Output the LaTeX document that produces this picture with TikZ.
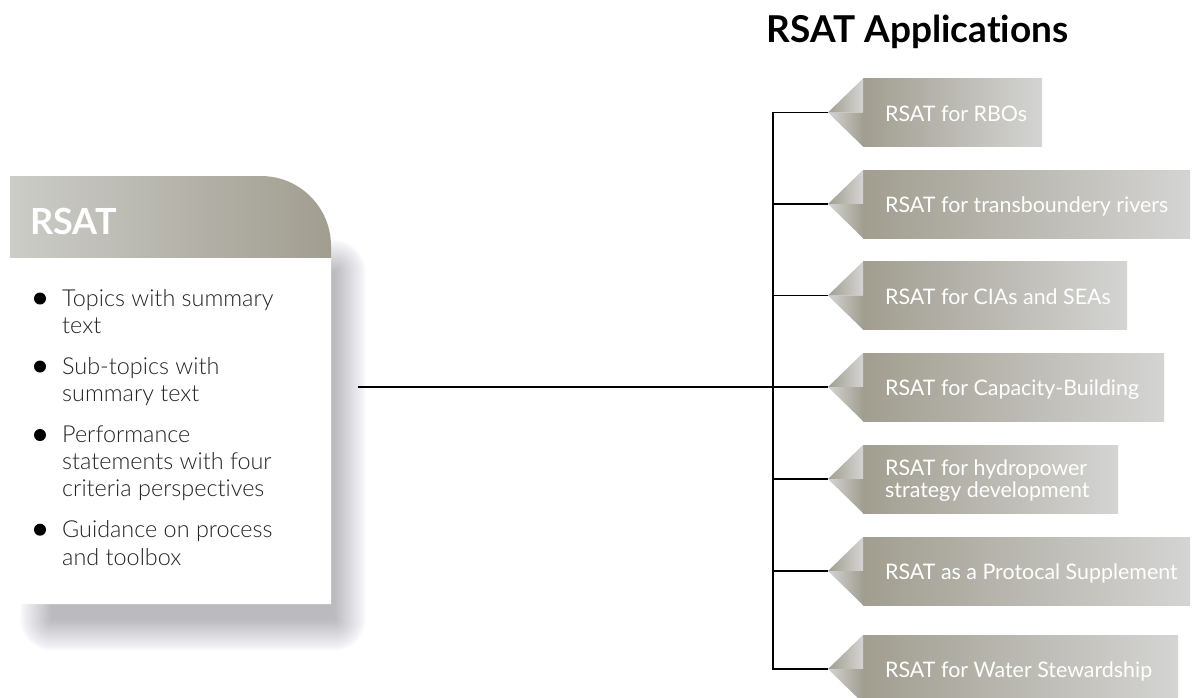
\documentclass[tikz,border=0pt]{standalone}
\usepackage{fontspec}
\setmainfont{Lato}[Ligatures=NoCommon]
\newfontfamily\latolight{Lato Light}[Ligatures=NoCommon]
\definecolor{olive}{RGB}{161,158,144}
\definecolor{lgray}{RGB}{212,212,211}
\definecolor{hlight}{RGB}{204,204,200}
\definecolor{bodytext}{RGB}{35,35,35}
\definecolor{shadowc}{RGB}{70,70,85}
\newcommand\applabel[5]{%
  \shade[left color=olive, right color=lgray] (863,#2-34) rectangle (#3,#2+34);
  \shade[left color=olive, right color=lgray] (828,#2) -- (863,#2-34) -- (863,#2) -- cycle;
  \shade[left color=lgray, right color=olive] (828,#2) -- (863,#2) -- (863,#2+34) -- cycle;
  \coordinate (t#1) at (828,#2);
  \node[labtext] (l#1) at (885,#2+#4) {#5};
}
\begin{document}
\begin{tikzpicture}[x=1pt,y=-1pt,
  conn/.style={line width=1.3pt, black},
  labtext/.style={text=white, font=\fontsize{21.4}{22}\selectfont, inner sep=0pt, anchor=base west, align=left},
  bultext/.style={text=bodytext, font=\latolight\fontsize{23.4}{27}\selectfont, inner sep=0pt, anchor=base west},
  bulletdot/.style={circle, fill=black, inner sep=0pt, minimum size=12pt},
  shadowlayer/.style={fill=shadowc, fill opacity=0.011},
]
\useasboundingbox[fill=white] (0,0) rectangle (1192,697);

% title
\node[font=\bfseries\fontsize{37}{40}\selectfont, anchor=base, inner sep=0pt] (title) at (917.5,42) {RSAT Applications};

% soft shadow of the main box
\foreach \k in {1,...,32} {
  \path[shadowlayer, rounded corners=\k pt] (52-\k,272-\k) rectangle (334+\k,619+\k);
}
% main box
\path[fill=white]
  (10,604) -- (10,176) -- (261,176) arc[start angle=-90, end angle=0, radius=70] -- (331,604) -- cycle;
\begin{scope}
  \clip (10,604) -- (10,176) -- (261,176) arc[start angle=-90, end angle=0, radius=70] -- (331,604) -- cycle;
  \shade[left color=hlight, right color=olive] (10,176) rectangle (331,257);
\end{scope}
\node[font=\bfseries\fontsize{36}{40}\selectfont, text=white, anchor=base west, inner sep=0pt] (rsat) at (30,234) {RSAT};

% bullets
\node[bulletdot] (d1) at (40,298.5) {};
\node[bultext] (b1a) at (62,306.7) {Topics with summary};
\node[bultext] (b1b) at (62,333.3) {text};
\node[bulletdot] (d2) at (40,366.5) {};
\node[bultext] (b2a) at (62,374) {Sub-topics with};
\node[bultext] (b2b) at (62,401.7) {summary text};
\node[bulletdot] (d3) at (40,435) {};
\node[bultext] (b3a) at (62,442.7) {Performance};
\node[bultext] (b3b) at (62,469) {statements with four};
\node[bultext] (b3c) at (62,496) {criteria perspectives};
\node[bulletdot] (d4) at (40,529.7) {};
\node[bultext] (b4a) at (62,537.3) {Guidance on process};
\node[bultext] (b4b) at (62,565) {and toolbox};

% application labels
\applabel{1}{112.5}{1042}{8.5}{RSAT for RBOs}
\applabel{2}{204}{1190}{8.5}{RSAT for transboundery rivers}
\applabel{3}{295.5}{1127}{8.5}{RSAT for CIAs and SEAs}
\applabel{4}{387}{1164}{8.5}{RSAT for Capacity-Building}
\applabel{5}{479}{1118}{18}{RSAT for hydropower\\strategy development}
\applabel{6}{571}{1190}{8.5}{RSAT as a Protocal Supplement}
\applabel{7}{669}{1178}{8.5}{RSAT for Water Stewardship}

% connectors
\coordinate (bus) at (773,0);
\coordinate (src) at (358,387);
\draw[conn] (t1) -- (t1 -| bus) -- (t7 -| bus) -- (t7);
\foreach \i in {2,...,6} \draw[conn] (t\i -| bus) -- (t\i);
\draw[conn] (src) -- (src -| bus);
\end{tikzpicture}
\end{document}
